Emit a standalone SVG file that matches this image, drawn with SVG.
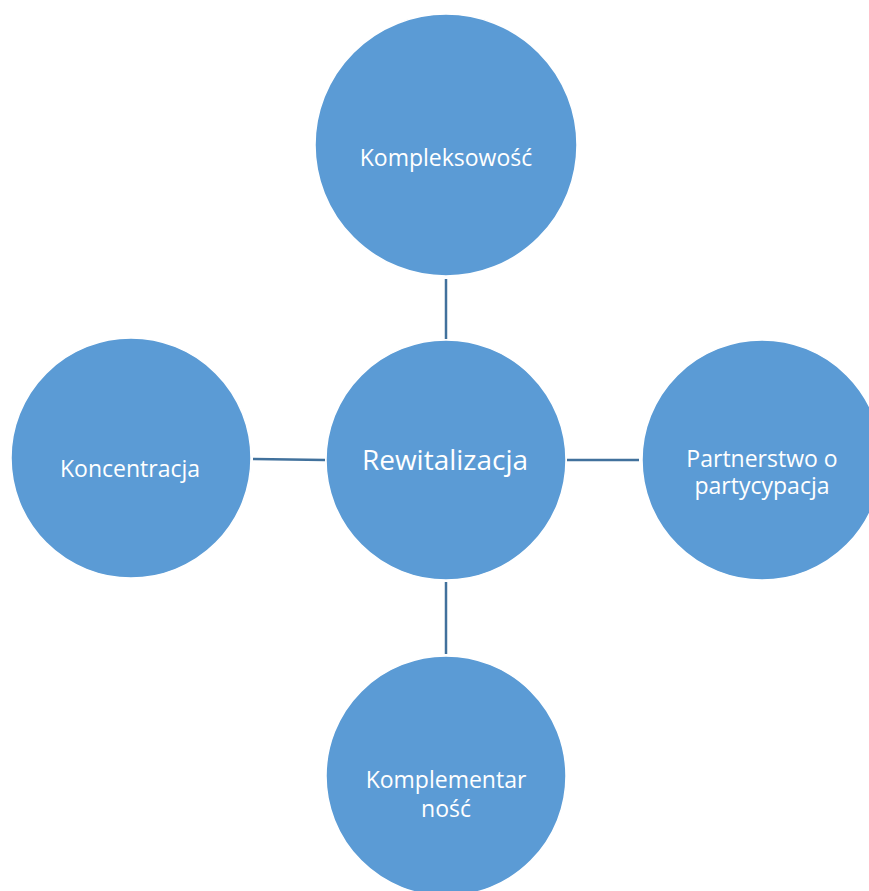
<svg xmlns="http://www.w3.org/2000/svg" width="869" height="891" viewBox="0 0 869 891">
<style>
.node{fill:#5B9BD5;stroke:#FFFFFF;stroke-width:1.5}
.lbl{font-family:"Open Sans","Noto Sans","Liberation Sans",sans-serif;fill:#FFFFFF;text-anchor:middle;font-size:23px}
.big{font-size:28px}
.conn{stroke:#41719C;stroke-width:2.5;fill:none}
</style>
<rect width="869" height="891" fill="#FFFFFF"/>
<g id="connectors">
<line class="conn" x1="446" y1="279" x2="446" y2="339"/>
<line class="conn" x1="253" y1="459" x2="325" y2="460"/>
<line class="conn" x1="567" y1="460" x2="639" y2="460"/>
<line class="conn" x1="446" y1="582" x2="446" y2="654"/>
</g>
<g id="node-kompleksowosc">
<circle class="node" cx="446" cy="145" r="131"/>
<text class="lbl" x="446" y="166">Kompleksowość</text>
</g>
<g id="node-rewitalizacja">
<circle class="node" cx="446" cy="460" r="120"/>
<text class="lbl big" x="445" y="470">Rewitalizacja</text>
</g>
<g id="node-koncentracja">
<circle class="node" cx="131" cy="458" r="120"/>
<text class="lbl" x="130" y="477">Koncentracja</text>
</g>
<g id="node-partnerstwo">
<circle class="node" cx="762" cy="460" r="120"/>
<text class="lbl" x="762" y="467"><tspan x="762" y="467">Partnerstwo o</tspan><tspan x="762" y="494">partycypacja</tspan></text>
</g>
<g id="node-komplementarnosc">
<circle class="node" cx="446" cy="776" r="120"/>
<text class="lbl" x="446" y="788"><tspan x="446" y="788">Komplementar</tspan><tspan x="446" y="817">ność</tspan></text>
</g>
</svg>
